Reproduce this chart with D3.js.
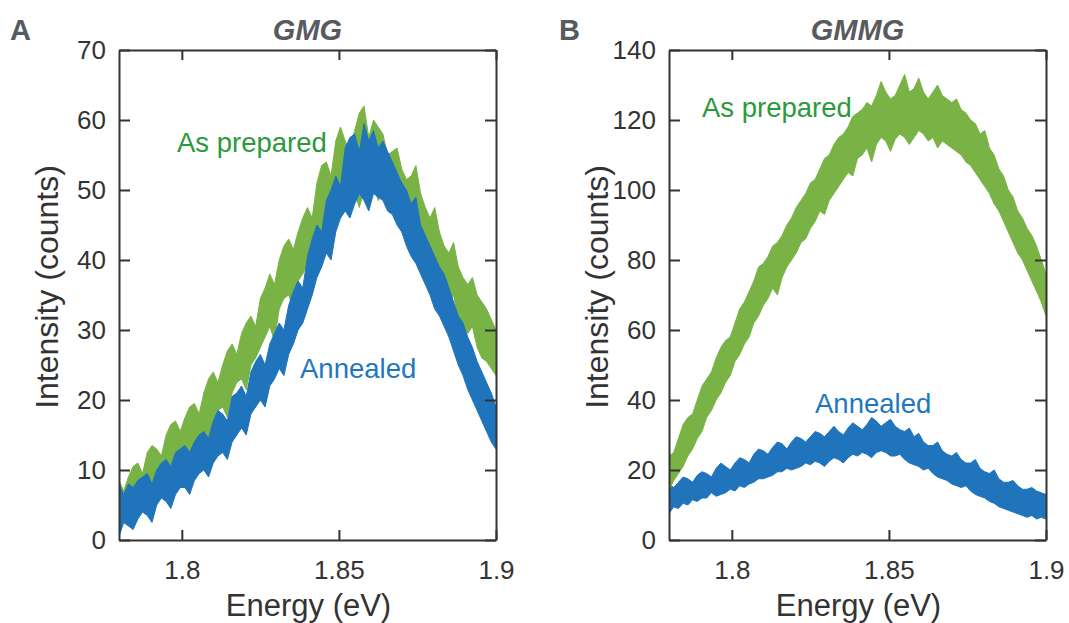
<!DOCTYPE html>
<html><head><meta charset="utf-8">
<script src="https://cdn.jsdelivr.net/npm/d3@7"></script>
<style>
body{margin:0;background:#fff;}
svg{display:block;font-family:"Liberation Sans",Arial,Helvetica,sans-serif;}
</style>
</head><body>
<svg id="chart" width="1069" height="623"></svg>
<script>
// ---------- DATA ----------
const energy = [1.7800,1.7815,1.7830,1.7845,1.7860,1.7875,1.7890,1.7905,1.7920,1.7935,1.7950,1.7965,1.7980,1.7995,1.8010,1.8025,1.8040,1.8055,1.8070,1.8085,1.8100,1.8115,1.8130,1.8145,1.8160,1.8175,1.8190,1.8205,1.8220,1.8235,1.8250,1.8265,1.8280,1.8295,1.8310,1.8325,1.8340,1.8355,1.8370,1.8385,1.8400,1.8415,1.8430,1.8445,1.8460,1.8475,1.8490,1.8505,1.8520,1.8535,1.8550,1.8565,1.8580,1.8595,1.8610,1.8625,1.8640,1.8655,1.8670,1.8685,1.8700,1.8715,1.8730,1.8745,1.8760,1.8775,1.8790,1.8805,1.8820,1.8835,1.8850,1.8865,1.8880,1.8895,1.8910,1.8925,1.8940,1.8955,1.8970,1.8985,1.9000];

// Panel A (GMG): upper / lower edge of each noisy trace
const gmgPreparedHigh = [8.5,7,9,10.5,11,9.5,12.5,13.5,13,12,15,16.5,17,15.5,17.5,19,19.5,18,21,23,24,22.5,25,27,28,26.5,29.5,31,32,30.5,34.5,36,38,36.5,40,42,43,41.5,44,46,47.5,46,51,53.5,54,52,57,59,57,55.5,58.5,61,62,57.5,60,59,58,55,55.5,56,53,51.5,52,53.5,49.5,47.5,46,47.5,44,42,41,42.5,39,37.5,36.5,37.5,35,34,33,31.5,30];
const gmgPreparedLow  = [1.5,4,3,2.5,4.5,6,6,5,7.5,9,8.5,7.5,10,12,11.5,10.5,13,14.5,15,13.5,17,18.5,19,17.5,21,22.5,23,21.5,25,26,27.5,29,30.5,28.5,33,34.5,35,33,37,38,39.5,41.5,43,41,46,47,48.5,46,49,50.5,49.5,47.5,50,51.5,50.5,48.5,49.5,48,47,48.5,45.5,46,44.5,43,42,40,39,40.5,36.5,35,34,35,31.5,30,29.5,30.5,27.5,26,25.5,24.5,23.5];
const gmgAnnealedHigh = [8,6.5,8,7.5,8.5,9,9.5,8,10,11,11.5,10.5,12.5,13,13.5,12.5,14,15,15.5,14.5,17,18.5,18,17,20.5,21,22,20.5,24,25.5,26.5,25,28,29.5,31,30,33.5,35.5,37,36,40.5,43,45,44,48.5,50,52,50.5,56,57.5,58,55.5,59.5,57,58.5,56,57,55.5,54,52.5,51,50,48,49,45,43.5,42,40.5,39,38,36,34,32,31,29,27.5,25.5,24,22.5,21,19];
const gmgAnnealedLow  = [0.5,2.5,2,1.5,3,4,3.5,2.5,5,6,5.5,4.5,6.5,7.5,7.5,6.5,8.5,9.5,10,9,11,12,12.5,11.5,14,15,16,15,18,19,20,19,22,23,24.5,23.5,26.5,28,30,31,33,35,37.5,39,41,40,44,46,47,46,48,49.5,48.5,47,49.5,49,48.5,47,46.5,45,44,42,40.5,39.5,38,36.5,35,33,32,30.5,29,27,25,23.5,21.5,20,18.5,17,15.5,14,13];

// Panel B (GMMG)
const gmmgPreparedHigh = [24,25,29,33,35,36,40,44,46,48,52,55,57,58,62,66,68,71,74,78,79,81,84,85,87,90,92,95,97,99,102,103,106,109,110,113,115,116,118,121,122,123,125,124,127,131,128,126,127,130,133,128,129,132,128,126,128,130,127,126,125,126,123,122,120,119,116,117,112,110,106,104,100,98,94,92,89,87,84,80,76];
const gmmgPreparedLow  = [14,17,19,21,24,26,29,31,35,37,40,42,45,47,51,53,56,58,62,64,67,69,72,70,75,78,80,82,85,86,89,91,94,93,97,99,101,103,105,104,109,110,112,108,113,115,114,111,114.5,116,115,113,115,117,116,114,115,112,114,113,112,111,110,108,107,105,103,101,99,96,94,91,88,85,82,80,77,74,71,68,64];
const gmmgAnnealedHigh = [16,15,16.5,18,17.5,16.5,18.5,19.5,19,18,20.5,22,21,20,22,23.5,23,22,24.5,26,25.5,24.5,26.5,28,27.5,26,28,29.5,29,28,29.5,31,30.5,29.5,31,32.5,31,30,32,33.5,32.5,31.5,33,35,34,32.5,33.5,34.5,32.5,31.5,31,32,29.5,30.5,28,27,27,28,25.5,24.5,24,25,23,22,22,23,20.5,19.5,19,20,17.5,16.5,16.5,17,15.5,14.5,14.5,15,14,13.5,13];
const gmmgAnnealedLow  = [7.5,9.5,9,10.5,10,11.5,11,12,12,13.5,12.5,13,13.5,14.5,14,15.5,15,16,16.5,17.5,17.5,18,18.5,19.5,19.5,20.5,20,20.5,21,22,21.5,22.5,22,21,22.5,23.5,23,22,23.5,24.5,24,25,24.5,23.5,25,25.5,25,24,24,24.5,23,22,21.5,21,20,20.5,19,18,17.5,17,16,15.5,15,15.5,14,13,12.5,12,11,10.5,9.5,9,8.5,8,7.5,7,6.5,7,6,6.5,6];

const xTicks = [1.8, 1.85, 1.9];
const gmgYTicks = [0,10,20,30,40,50,60,70];
const gmmgYTicks = [0,20,40,60,80,100,120,140];
const seriesNames = ["As prepared", "Annealed"];
const panelTitles = ["GMG", "GMMG"];
const panelLetters = ["A", "B"];

// ---------- STYLE ----------
const GREEN = "#7ab345", BLUE = "#1f74bb";
const GREEN_TXT = "#2c9a3c", BLUE_TXT = "#1e78c0";
const AXIS = "#333333", TITLE = "#595a5f";

const svg = d3.select("#chart");

function panel(cfg) {
  const g = svg.append("g");
  const x = d3.scaleLinear().domain([1.78, 1.9]).range([cfg.left, cfg.right]);
  const y = d3.scaleLinear().domain([0, cfg.yMax]).range([cfg.bottom, cfg.top]);

  const clipId = "clip" + cfg.letter;
  svg.append("clipPath").attr("id", clipId).append("rect")
    .attr("x", cfg.left).attr("y", cfg.top)
    .attr("width", cfg.right - cfg.left).attr("height", cfg.bottom - cfg.top);

  const data = g.append("g").attr("clip-path", `url(#${clipId})`);
  const area = d3.area().x((d, i) => x(energy[i])).y0(d => y(d[0])).y1(d => y(d[1]));
  cfg.series.forEach(s => {
    const pts = s.low.map((lo, i) => [lo, s.high[i]]);
    data.append("path").datum(pts).attr("d", area)
      .attr("fill", s.color).attr("stroke", s.color).attr("stroke-width", 1)
      .attr("stroke-linejoin", "miter");
  });

  const style = sel => {
    sel.selectAll("path.domain").attr("stroke", AXIS).attr("stroke-width", 2);
    sel.selectAll(".tick line").attr("stroke", AXIS).attr("stroke-width", 2);
    sel.selectAll(".tick text").attr("fill", "#333").attr("font-size", 26)
      .attr("font-family", '"Liberation Sans", Arial, sans-serif');
  };

  g.append("g").attr("transform", `translate(0,${cfg.bottom})`)
    .call(d3.axisBottom(x).tickValues(xTicks).tickSize(-10).tickSizeOuter(0).tickPadding(21).tickFormat(d => d))
    .call(style);
  g.append("g").attr("transform", `translate(0,${cfg.top})`)
    .call(d3.axisTop(x).tickValues(xTicks).tickSize(-10).tickSizeOuter(0).tickFormat(""))
    .call(style);
  g.append("g").attr("transform", `translate(${cfg.left},0)`)
    .call(d3.axisLeft(y).tickValues(cfg.yTicks).tickSize(-11).tickSizeOuter(0).tickPadding(13).tickFormat(d => d))
    .call(style);
  g.append("g").attr("transform", `translate(${cfg.right},0)`)
    .call(d3.axisRight(y).tickValues(cfg.yTicks).tickSize(-11).tickSizeOuter(0).tickFormat(""))
    .call(style);

  // titles
  const cx = (cfg.left + cfg.right) / 2;
  g.append("text").attr("x", cx).attr("y", 40).attr("text-anchor", "middle")
    .attr("font-size", 29).attr("font-weight", "bold").attr("font-style", "italic")
    .attr("fill", TITLE).text(cfg.title);
  g.append("text").attr("x", cfg.letterX).attr("y", 40)
    .attr("font-size", 29).attr("font-weight", "bold").attr("fill", TITLE).text(cfg.letter);

  // axis labels
  g.append("text").attr("x", cx + 1).attr("y", 616).attr("text-anchor", "middle")
    .attr("font-size", 31).attr("fill", "#333").text("Energy (eV)");
  g.append("text").attr("transform", `translate(${cfg.left - 61},287) rotate(-90)`)
    .attr("text-anchor", "middle").attr("font-size", 32).attr("fill", "#333").text("Intensity (counts)");

  // in-plot labels
  cfg.labels.forEach(l => {
    g.append("text").attr("x", l.x).attr("y", l.y).attr("font-size", 27.5)
      .attr("fill", l.color).text(l.text);
  });
}

panel({
  letter: panelLetters[0], letterX: 10, title: panelTitles[0],
  left: 119, right: 496, top: 50, bottom: 540, yMax: 70, yTicks: gmgYTicks,
  series: [
    {low: gmgPreparedLow, high: gmgPreparedHigh, color: GREEN},
    {low: gmgAnnealedLow, high: gmgAnnealedHigh, color: BLUE}
  ],
  labels: [
    {text: seriesNames[0], x: 177, y: 152, color: GREEN_TXT},
    {text: seriesNames[1], x: 300, y: 378, color: BLUE_TXT}
  ]
});

panel({
  letter: panelLetters[1], letterX: 559, title: panelTitles[1],
  left: 669, right: 1046, top: 50, bottom: 540, yMax: 140, yTicks: gmmgYTicks,
  series: [
    {low: gmmgAnnealedLow, high: gmmgAnnealedHigh, color: BLUE},
    {low: gmmgPreparedLow, high: gmmgPreparedHigh, color: GREEN}
  ],
  labels: [
    {text: seriesNames[0], x: 702, y: 117, color: GREEN_TXT},
    {text: seriesNames[1], x: 815, y: 413, color: BLUE_TXT}
  ]
});
</script>
</body></html>
